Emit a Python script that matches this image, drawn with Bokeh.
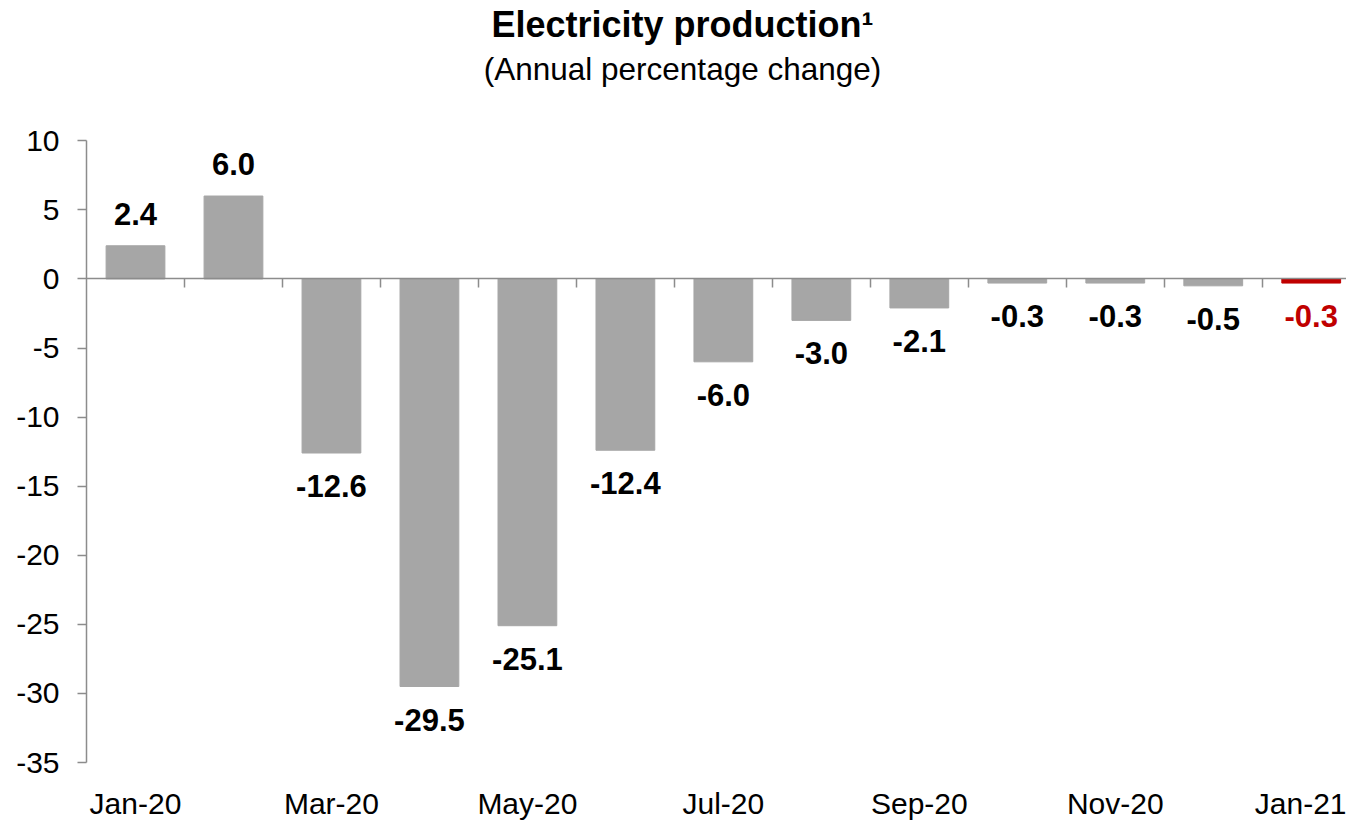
from bokeh.plotting import figure
from bokeh.models import (Range1d, Label, LinearAxis, FixedTicker, ColumnDataSource)
from bokeh.core.properties import value
from bokeh.embed import file_html
from bokeh.resources import INLINE

months = ["Jan-20", "Feb-20", "Mar-20", "Apr-20", "May-20", "Jun-20", "Jul-20",
          "Aug-20", "Sep-20", "Oct-20", "Nov-20", "Dec-20", "Jan-21"]
values = [2.4, 6.0, -12.6, -29.5, -25.1, -12.4, -6.0, -3.0, -2.1, -0.3, -0.3, -0.5, -0.3]
y_ticks = [10, 5, 0, -5, -10, -15, -20, -25, -30, -35]
title_text = "Electricity production\u00b9"
subtitle_text = "(Annual percentage change)"

FONT = "Liberation Sans"
GRAY_BAR = "#A6A6A6"
RED = "#C00000"
AXIS = "#8C8C8C"
W, H = 1346, 822
LEFT, BOTTOM = 86, 56
AXIS_TOP_PX = 141          # canvas y where the value axis ends (value 10)
Y_MIN, Y_MAX = -35, 10
X_MIN, X_MAX = -0.5, 12.36

frame_h = H - BOTTOM
px_per_y = (frame_h - AXIS_TOP_PX) / (Y_MAX - Y_MIN)
Y_TOP = Y_MAX + AXIS_TOP_PX / px_per_y   # frame extends up to the canvas top
px_per_x = (W - LEFT) / (X_MAX - X_MIN)


def canvas_to_y(py):
    return Y_MAX + (AXIS_TOP_PX - py) / px_per_y


def canvas_to_x(px):
    return X_MIN + (px - LEFT) / px_per_x


xs = list(range(len(months)))
colors = [GRAY_BAR] * (len(values) - 1) + [RED]
lab_colors = ["black"] * (len(values) - 1) + [RED]
labels = [f"{v:.1f}" for v in values]


def subset(cond):
    idx = [i for i, v in enumerate(values) if cond(v)]
    return ColumnDataSource(dict(x=[xs[i] for i in idx], y=[values[i] for i in idx],
                                 t=[labels[i] for i in idx], c=[lab_colors[i] for i in idx]))


pos = subset(lambda v: v >= 0)
neg = subset(lambda v: v < 0)
bars = ColumnDataSource(dict(x=xs, top=values, color=colors))

p = figure(width=W, height=H, output_backend="svg", toolbar_location=None, title=None,
           x_range=Range1d(X_MIN, X_MAX), y_range=Range1d(Y_MIN, Y_TOP),
           min_border_left=LEFT, min_border_right=0, min_border_top=0,
           min_border_bottom=BOTTOM, outline_line_color=None)

p.add_layout(Label(x=canvas_to_x(682), y=canvas_to_y(24),
                   text=title_text, text_align="center", text_baseline="alphabetic",
                   text_font=FONT, text_font_size="36px", text_font_style="bold",
                   text_color="black"))
p.add_layout(Label(x=canvas_to_x(682), y=canvas_to_y(69),
                   text=subtitle_text, text_align="center", text_baseline="alphabetic",
                   text_font=FONT, text_font_size="31.5px", text_font_style="normal",
                   text_color="black"))

p.vbar(x="x", top="top", bottom=0, width=0.6, color="color", source=bars)

p.text(x="x", y="y", text="t", text_color="c", source=pos,
       text_font=value(FONT), text_font_size="31px", text_font_style="bold",
       text_align="center", text_baseline="alphabetic", y_offset=-32)
p.text(x="x", y="y", text="t", text_color="c", source=neg,
       text_font=value(FONT), text_font_size="31px", text_font_style="bold",
       text_align="center", text_baseline="top", y_offset=22)

p.grid.visible = False

# y axis
p.yaxis.bounds = (Y_MIN, Y_MAX)
p.yaxis.ticker = FixedTicker(ticks=y_ticks)
p.yaxis.major_label_overrides = {t: str(t) for t in y_ticks}
p.yaxis.axis_line_color = AXIS
p.yaxis.axis_line_width = 1.5
p.yaxis.major_tick_line_color = AXIS
p.yaxis.major_tick_line_width = 1.5
p.yaxis.major_tick_out = 9
p.yaxis.major_tick_in = 0
p.yaxis.minor_tick_line_color = None
p.yaxis.major_label_standoff = 18
p.yaxis.major_label_text_font = FONT
p.yaxis.major_label_text_font_size = "30px"
p.yaxis.major_label_text_color = "black"

# bottom axis: labels only
p.xaxis.ticker = FixedTicker(ticks=xs[::2])
p.xaxis.major_label_overrides = {i: months[i] for i in xs[::2]}
p.xaxis.axis_line_color = None
p.xaxis.major_tick_line_color = None
p.xaxis.minor_tick_line_color = None
p.xaxis.major_tick_out = 0
p.xaxis.major_tick_in = 0
p.xaxis.major_label_standoff = 24
p.xaxis.major_label_text_font = FONT
p.xaxis.major_label_text_font_size = "30px"
p.xaxis.major_label_text_color = "black"

# zero line axis with category-boundary ticks
zero_axis = LinearAxis(fixed_location=0,
                       ticker=FixedTicker(ticks=[i + 0.5 for i in xs[:-1]]),
                       axis_line_color=AXIS, axis_line_width=1.5,
                       major_tick_line_color=AXIS, major_tick_line_width=1.5,
                       major_tick_out=9, major_tick_in=0,
                       minor_tick_line_color=None,
                       major_label_text_font_size="0px")
p.add_layout(zero_axis, "below")

open("out.html", "w").write(file_html(p, INLINE))
